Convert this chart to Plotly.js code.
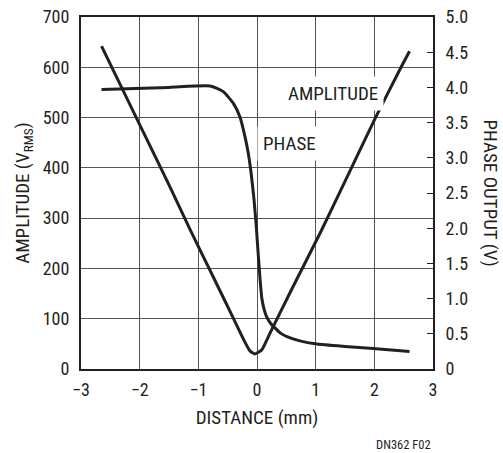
<!DOCTYPE html>
<html>
<head>
<meta charset="utf-8">
<script src="https://cdn.plot.ly/plotly-3.0.1.min.js"></script>
<style>
html,body{margin:0;padding:0;background:#fff;}
#chart{width:503px;height:453px;}
</style>
</head>
<body>
<div id="chart"></div>
<script>
// Amplitude (V RMS) vs distance (mm)
const ampX = [-2.65, -2.0, -1.5, -1.14, -0.745, -0.40, -0.23, -0.12, -0.034, 0.08, 0.22, 0.39, 0.62, 1.10, 1.61, 2.02, 2.455, 2.6];
const ampY = [642, 486, 366, 277, 183, 100, 59, 36, 30, 38, 71, 111, 165, 276, 400, 500, 600, 632];
// Phase output (V) vs distance (mm)
const phaseX = [-2.65, -1.5, -0.8, -0.575, -0.40, -0.29, -0.205, -0.148, -0.10, -0.05, -0.01, 0.02, 0.05, 0.08, 0.12, 0.165, 0.23, 0.31, 0.40, 0.51, 0.73, 1.02, 1.5, 1.98, 2.6];
const phaseY = [3.97, 4.0, 4.02, 3.94, 3.77, 3.58, 3.30, 3.06, 2.78, 2.40, 2.0, 1.64, 1.30, 1.02, 0.85, 0.74, 0.65, 0.58, 0.51, 0.46, 0.40, 0.355, 0.32, 0.29, 0.25];

const xTicks = [-3, -2, -1, 0, 1, 2, 3];
const yTicks = [0, 100, 200, 300, 400, 500, 600, 700];
const y2Ticks = [0, 0.5, 1.0, 1.5, 2.0, 2.5, 3.0, 3.5, 4.0, 4.5, 5.0];
const y2TickText = ['0', '0.5', '1.0', '1.5', '2.0', '2.5', '3.0', '3.5', '4.0', '4.5', '5.0'];

const FONT = '"Liberation Sans Narrow", "Arial Narrow", "Roboto Condensed", Arial, sans-serif';
const INK = '#231f20';

const traces = [
  {x: ampX, y: ampY, mode: 'lines', name: 'AMPLITUDE', yaxis: 'y',
   line: {color: INK, width: 3, shape: 'spline', smoothing: 0.5}, hoverinfo: 'skip'},
  {x: phaseX, y: phaseY, mode: 'lines', name: 'PHASE', yaxis: 'y2',
   line: {color: INK, width: 3, shape: 'spline', smoothing: 0.5}, hoverinfo: 'skip'}
];

const layout = {
  width: 503, height: 453,
  margin: {l: 81, r: 70, t: 17, b: 84},
  paper_bgcolor: '#fff', plot_bgcolor: '#fff',
  showlegend: false,
  font: {family: FONT, size: 18, color: INK},
  xaxis: {
    range: [-3, 3], tickvals: xTicks, ticks: '', showline: true, linewidth: 2, linecolor: INK,
    mirror: true, showgrid: true, gridcolor: '#555', gridwidth: 1, zeroline: false,
    ticklabelstandoff: 3,
    title: {text: 'DISTANCE (mm)', font: {family: FONT, size: 19, color: INK}, standoff: 12}
  },
  yaxis: {
    range: [0, 700], tickvals: yTicks, ticks: '', showline: true, linewidth: 2, linecolor: INK,
    showgrid: true, gridcolor: '#555', gridwidth: 1, zeroline: false,
    ticklabelstandoff: 6,
    title: {text: 'AMPLITUDE (V<sub>RMS</sub>)', font: {family: FONT, size: 19, color: INK}, standoff: 8}
  },
  yaxis2: {
    range: [0, 5], tickvals: y2Ticks, ticktext: y2TickText, overlaying: 'y', side: 'right',
    ticks: 'inside', ticklen: 6, tickwidth: 1, tickcolor: INK,
    showline: true, linewidth: 2, linecolor: INK, showgrid: false, zeroline: false,
    ticklabelstandoff: 7
  },
  annotations: [
    {x: 1.287, y: 547, xref: 'x', yref: 'y', text: 'AMPLITUDE', showarrow: false,
     font: {family: FONT, size: 19, color: INK}, bgcolor: '#fff', borderpad: 5},
    {x: 0.0, y: 449, xref: 'x', yref: 'y', xanchor: 'left', text: 'PHASE', showarrow: false,
     font: {family: FONT, size: 19, color: INK}, bgcolor: '#fff', borderpad: 5},
    {x: 1.166, y: 0.5, xref: 'paper', yref: 'paper', xanchor: 'center', yanchor: 'middle',
     text: 'PHASE OUTPUT (V)', textangle: 90, showarrow: false,
     font: {family: FONT, size: 19, color: INK}},
    {x: 1, y: -0.214, xref: 'paper', yref: 'paper', xanchor: 'right', yanchor: 'middle',
     text: 'DN362 F02', showarrow: false, font: {family: FONT, size: 12.5, color: INK}}
  ]
};

Plotly.newPlot('chart', traces, layout, {staticPlot: true, displayModeBar: false});
</script>
</body>
</html>
